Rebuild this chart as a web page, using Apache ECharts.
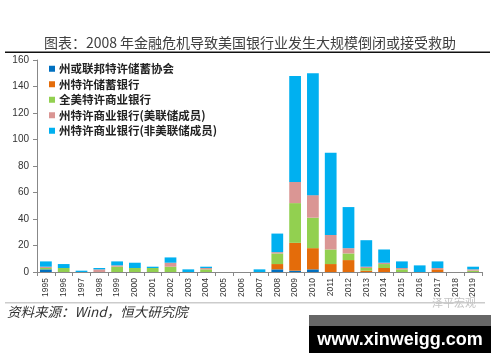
<!DOCTYPE html>
<html>
<head>
<meta charset="utf-8">
<script src="https://cdn.jsdelivr.net/npm/echarts@6/dist/echarts.min.js"></script>
<style>html,body{margin:0;padding:0;background:#fff}#c{width:500px;height:362px}</style>
</head>
<body>
<div id="c"></div>
<script>
var years = ['1995','1996','1997','1998','1999','2000','2001','2002','2003','2004','2005','2006','2007','2008','2009','2010','2011','2012','2013','2014','2015','2016','2017','2018','2019'];
var savingsAssoc   = [2,0,0,0,0,0,0,0,0,0,0,0,0,2,1,2,0,0,0,0,0,0,0,0,0];
var stateSavings   = [0,0,0,0,0,0,0,0,0,0,0,0,0,4,21,16,6,9,1,3,0,0,2,0,0];
var nationalComm   = [1,3,0,0,4,3,3,4,0,2,0,0,0,8,30,23,11,5,2,3,2,0,0,0,1];
var stateMember    = [1,0,0,2,1,0,0,3,0,1,0,0,0,1,16,17,11,4,1,1,1,0,1,0,1];
var stateNonMember = [4,3,1,1,3,4,1,4,2,1,0,0,2,14,80,92,62,31,20,10,5,5,5,0,2];
var yTicks = [0,20,40,60,80,100,120,140,160];

var names = ['州或联邦特许储蓄协会','州特许储蓄银行','全美特许商业银行','州特许商业银行(美联储成员)','州特许商业银行(非美联储成员)'];
var colors = ['#0070C0','#E46C0A','#92D050','#DA9694','#00B0F0'];
var datas = [savingsAssoc, stateSavings, nationalComm, stateMember, stateNonMember];

var chart = echarts.init(document.getElementById('c'));
var series = names.map(function(n,i){
  return {name:n,type:'bar',stack:'total',data:datas[i],barWidth:'66%',
    itemStyle:{color:colors[i]},emphasis:{disabled:true}};
});
chart.setOption({
  animation:false,
  title:{text:'图表：2008 年金融危机导致美国银行业发生大规模倒闭或接受救助',left:'center',top:31,
    textStyle:{fontSize:14,fontWeight:'normal',color:'#404040',fontFamily:'Noto Sans CJK SC'}},
  legend:{orient:'vertical',left:44,top:58,itemWidth:6,itemHeight:6,itemGap:4,icon:'rect',
    textStyle:{fontSize:11.5,fontWeight:'bold',color:'#222',fontFamily:'Noto Sans CJK SC',padding:[0,0,0,-1]},
    data:names},
  grid:{left:37,right:18,top:60,bottom:90},
  xAxis:{type:'category',data:years,boundaryGap:true,
    axisLine:{lineStyle:{color:'#888',width:1}},
    axisTick:{show:true,length:4,alignWithLabel:false,lineStyle:{color:'#888'}},
    axisLabel:{rotate:90,fontSize:8.5,color:'#333',margin:6,interval:0,fontFamily:'Liberation Sans'}},
  yAxis:{type:'value',min:0,max:160,interval:20,
    axisLine:{show:true,lineStyle:{color:'#888'}},
    axisTick:{show:true,length:4,lineStyle:{color:'#888'}},
    splitLine:{show:false},
    axisLabel:{fontSize:10,color:'#333',margin:8,fontFamily:'Liberation Sans',
      formatter:function(v){return yTicks.indexOf(v)>=0?String(v):'';}}},
  series:series,
  graphic:[
    {type:'rect',shape:{x:5,y:51.5,width:485,height:1.6},style:{fill:'#111'}},
    {type:'rect',shape:{x:5,y:302.5,width:480,height:0.8},style:{fill:'#999'}},
    {type:'text',left:7,top:305,style:{text:'资料来源：Wind，恒大研究院',fontSize:13.5,fontStyle:'italic',fill:'#333',fontFamily:'Noto Sans CJK SC'}},
    {type:'text',left:432,top:297,style:{text:'泽平宏观',fontSize:11,fill:'#c4c4c4',fontFamily:'Noto Sans CJK SC'}},
    {type:'rect',shape:{x:309,y:315,width:182,height:11},style:{fill:'#666'}},
    {type:'rect',shape:{x:309,y:326,width:182,height:27},style:{fill:'#000'}},
    {type:'text',x:400,y:340,style:{text:'www.xinweigg.com',fontSize:18,fontWeight:'bold',fill:'#fff',align:'center',verticalAlign:'middle',fontFamily:'Liberation Sans'}}
  ]
});
</script>
</body>
</html>
